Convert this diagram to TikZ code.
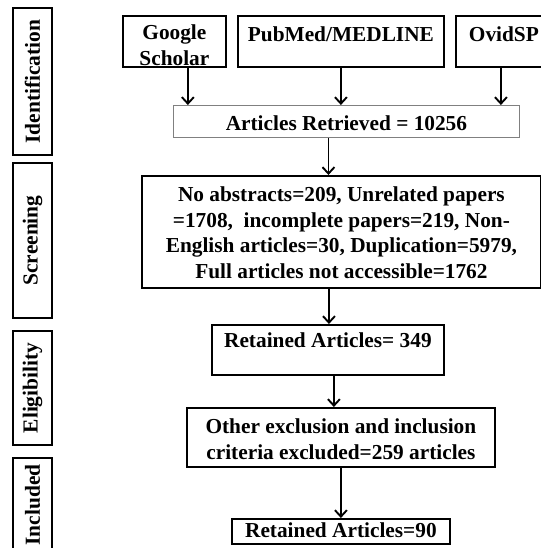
\documentclass[tikz,border=0pt]{standalone}
\usepackage{fontspec}
\setmainfont{Liberation Serif}
\usetikzlibrary{arrows.meta}
\definecolor{ink}{HTML}{000000}
\definecolor{greyline}{HTML}{808080}
\newcommand{\flow}{\fontsize{21.4}{26}\selectfont\bfseries}
\newcommand{\stage}{\fontsize{21.5}{26}\selectfont\bfseries}

\begin{document}
\begin{tikzpicture}[x=1bp,y=-1bp,font=\flow,
  box/.style={draw=ink,line width=1.8pt,anchor=north west,inner sep=0pt,align=center},
  side/.style={draw=ink,line width=1.8pt,rotate=90,inner sep=0pt,minimum height=39bp,font=\stage},
  arr/.style={ink,line width=1.7pt,-{Straight Barb[length=6.5pt,width=12pt,line width=1.9pt]}}]
\useasboundingbox (0,0) rectangle (541,548);
\node[side,minimum width=147bp] (ident) at (32.5,81.5) {Identification};
\node[side,minimum width=155bp] (scrn) at (32.5,240.5) {Screening};
\node[side,minimum width=114bp] (elig) at (32.5,388) {Eligibility};
\node[side,minimum width=94bp] (incl) at (32.5,505) {Included};
\node[box,minimum width=103bp,text height=50bp,text depth=1bp] (google) at (122,15) {Google\\Scholar};
\node[box,minimum width=206bp,text height=26bp,text depth=25bp] (pubmed) at (237,15) {PubMed/MEDLINE};
\node[box,minimum width=96bp,text height=26bp,text depth=25bp] (ovid) at (455,15) {OvidSP};
\node[box,draw=greyline,line width=0.8pt,minimum width=346bp,text height=25bp,text depth=7bp] (art) at (173,105) {Articles Retrieved = 10256};
\node[box,minimum width=399bp,text height=103bp,text depth=9bp] (scr) at (141,175) {No abstracts=209, Unrelated papers\\=1708,\ \ incomplete papers=219, Non-\\English articles=30, Duplication=5979,\\Full articles not accessible=1762};
\node[box,minimum width=232bp,text height=23bp,text depth=27bp] (ret) at (211,324) {Retained Articles= 349};
\node[box,minimum width=308bp,text height=52bp,text depth=7bp] (other) at (186,407) {Other exclusion and inclusion\\criteria excluded=259 articles};
\node[box,minimum width=218bp,text height=19bp,text depth=6bp] (final) at (231,518) {Retained Articles=90};
\draw[arr] ([xshift=13.5pt]google.south) -- ([xshift=13.5pt]google.south |- art.north);
\draw[arr] (pubmed.south) -- (pubmed.south |- art.north);
\draw[arr] ([xshift=-3pt]ovid.south) -- ([xshift=-3pt]ovid.south |- art.north);
\draw[arr] ([xshift=-18pt]art.south) -- ([xshift=-18pt]art.south |- scr.north);
\draw[arr] ([xshift=-12.5pt]scr.south) -- ([xshift=-12.5pt]scr.south |- ret.north);
\draw[arr] ([xshift=6pt]ret.south) -- ([xshift=6pt]ret.south |- other.north);
\draw[arr] (other.south) -- (other.south |- final.north);
\end{tikzpicture}
\end{document}
